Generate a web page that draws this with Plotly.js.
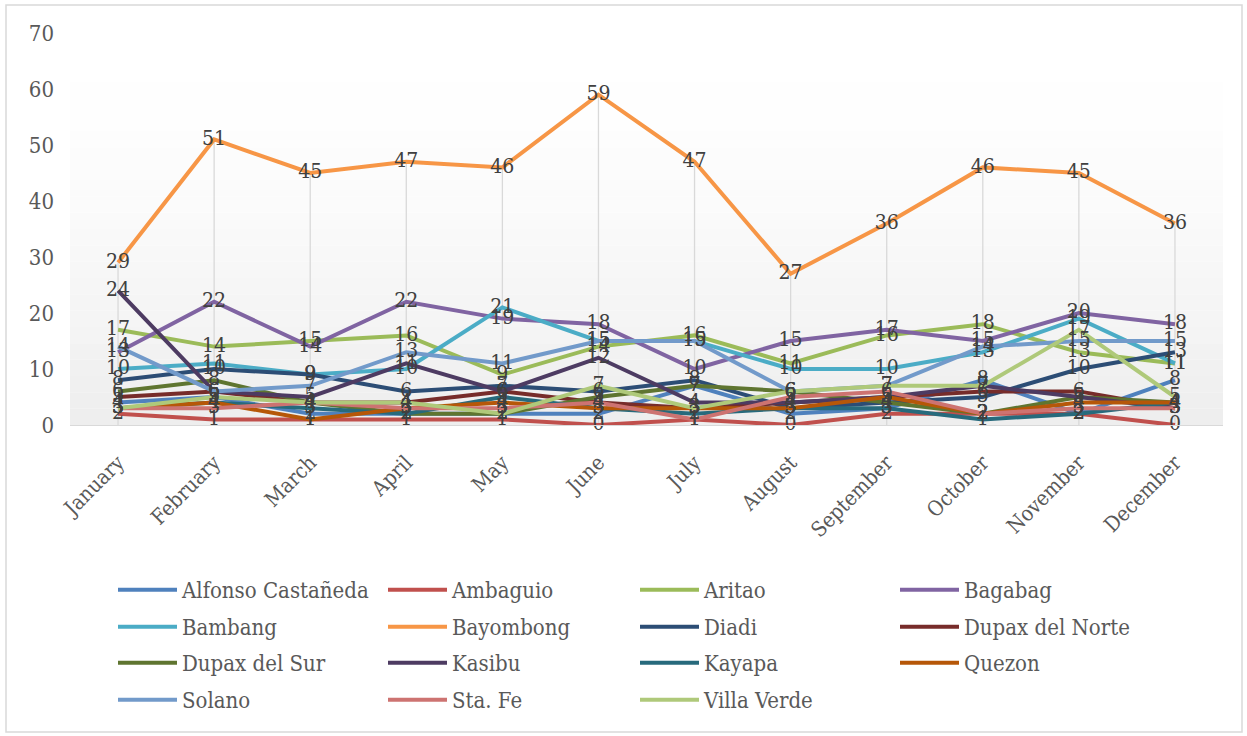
<!DOCTYPE html>
<html>
<head>
<meta charset="utf-8">
<script src="https://cdn.plot.ly/plotly-3.0.1.min.js"></script>
<style>html,body{margin:0;padding:0;background:#fff;}#chart{width:1247px;height:736px;}</style>
</head>
<body>
<div id="chart"></div>
<script>
const months = ["January","February","March","April","May","June","July","August","September","October","November","December"];
const yTicks = [0,10,20,30,40,50,60,70];

const alfonsoCastaneda = [4,5,2,2,2,2,7,2,3,8,2,8];
const ambaguio        = [2,1,1,1,1,0,1,0,2,2,2,0];
const aritao          = [17,14,15,16,9,14,16,11,16,18,13,11];
const bagabag         = [13,22,14,22,19,18,10,15,17,15,20,18];
const bambang         = [10,11,9,10,21,15,15,10,10,13,19,11];
const bayombong       = [29,51,45,47,46,59,47,27,36,46,45,36];
const diadi           = [8,10,9,6,7,6,8,3,4,5,10,13];
const dupaxDelNorte   = [5,6,4,4,6,4,3,4,5,6,6,3];
const dupaxDelSur     = [6,8,4,2,2,5,7,6,4,2,5,4];
const kasibu          = [24,6,5,11,6,12,4,4,5,7,5,3];
const kayapa          = [3,4,3,2,5,3,2,3,3,1,2,4];
const quezon          = [3,4,1,3,4,3,3,3,5,2,4,4];
const solano          = [14,6,7,13,11,15,15,6,7,14,15,15];
const staFe           = [3,3,4,3,3,4,1,5,6,2,3,3];
const villaVerde      = [3,5,4,4,2,7,3,6,7,7,17,5];

const seriesNames = ["Alfonso Castañeda","Ambaguio","Aritao","Bagabag","Bambang","Bayombong","Diadi","Dupax del Norte","Dupax del Sur","Kasibu","Kayapa","Quezon","Solano","Sta. Fe","Villa Verde"];
const seriesValues = [alfonsoCastaneda,ambaguio,aritao,bagabag,bambang,bayombong,diadi,dupaxDelNorte,dupaxDelSur,kasibu,kayapa,quezon,solano,staFe,villaVerde];
const colors = ["#4F81BD","#C0504D","#9BBB59","#8064A2","#4BACC6","#F79646","#2C4D75","#772C2A","#5F7530","#4D3B62","#276A7C","#B65708","#729ACA","#CD7371","#AFC97A"];

const FONT = "DejaVu Serif Condensed, Liberation Serif, serif";

const L = 70, R = 1223, T = 33, B = 425;
const px = v => (v - L) / (R - L), py = v => (B - v) / (B - T);

// drop lines from 0 to the highest value of each month
const dropX = [], dropY = [];
months.forEach((m, i) => {
  const mx = Math.max(...seriesValues.map(s => s[i]));
  dropX.push(m, m, null);
  dropY.push(0, mx, null);
});

const traces = [{
  x: dropX, y: dropY, mode: "lines", type: "scatter",
  line: {color: "#D9D9D9", width: 1.3}, hoverinfo: "skip", showlegend: false
}];

// legend grid: 4 columns, rows read left to right
const legendColX = [118, 388, 640, 900];
const legendRowY = [590, 627, 663, 700];
const legends = {};

seriesNames.forEach((name, k) => {
  const key = k === 0 ? "legend" : "legend" + (k + 1);
  legends[key] = {
    orientation: "v", x: px(legendColX[k % 4] - 5), xanchor: "left",
    y: py(legendRowY[Math.floor(k / 4)]), yanchor: "middle",
    itemwidth: 59, font: {family: FONT, size: 22, color: "#595959"},
    bgcolor: "rgba(0,0,0,0)", borderwidth: 0
  };
  traces.push({
    x: months, y: seriesValues[k], name: name, type: "scatter", mode: "lines",
    line: {color: colors[k], width: 4}, showlegend: true, legend: key
  });
});
seriesNames.forEach((name, k) => {
  traces.push({
    x: months, y: seriesValues[k], type: "scatter", mode: "text",
    text: seriesValues[k].map(String), textposition: "middle center",
    textfont: {family: FONT, size: 21, color: "#404040"},
    showlegend: false, hoverinfo: "skip", cliponaxis: false
  });
});

// plot-area background gradient bands and outer border
const shapes = [];
const nb = 24;
for (let i = 0; i < nb; i++) {
  const t = i / (nb - 1);
  const g = Math.round(255 - 17 * Math.pow(t, 1.6));
  shapes.push({type: "rect", xref: "paper", yref: "paper", layer: "below",
    x0: 0, x1: 1, y0: 1 - (i + 1) / nb, y1: 1 - i / nb,
    line: {width: 0}, fillcolor: `rgb(${g},${g},${g})`});
}
shapes.push({type: "rect", xref: "paper", yref: "paper", layer: "above",
  x0: px(6), x1: px(1242), y0: py(732), y1: py(5),
  line: {color: "#D9D9D9", width: 1.5}, fillcolor: "rgba(0,0,0,0)"});

const layout = Object.assign({
  width: 1247, height: 736,
  margin: {l: L, r: 1247 - R, t: T, b: 736 - B, autoexpand: false},
  paper_bgcolor: "#FFFFFF", plot_bgcolor: "rgba(0,0,0,0)",
  font: {family: FONT, color: "#595959", size: 20},
  showlegend: true,
  xaxis: {
    type: "category", range: [-0.5, 11.5], tickangle: -45, automargin: false,
    showgrid: false, zeroline: false, showline: true, linecolor: "#D9D9D9", linewidth: 1,
    ticks: "", ticklabelstandoff: 16, tickfont: {family: FONT, size: 21, color: "#595959"}
  },
  yaxis: {
    range: [0, 70], tickvals: yTicks, showgrid: false, zeroline: false, showline: false, automargin: false,
    ticks: "", ticklabelstandoff: 15, tickfont: {family: FONT, size: 22, color: "#595959"}
  },
  shapes: shapes
}, legends);

Plotly.newPlot("chart", traces, layout, {displayModeBar: false, staticPlot: true});
</script>
</body>
</html>
